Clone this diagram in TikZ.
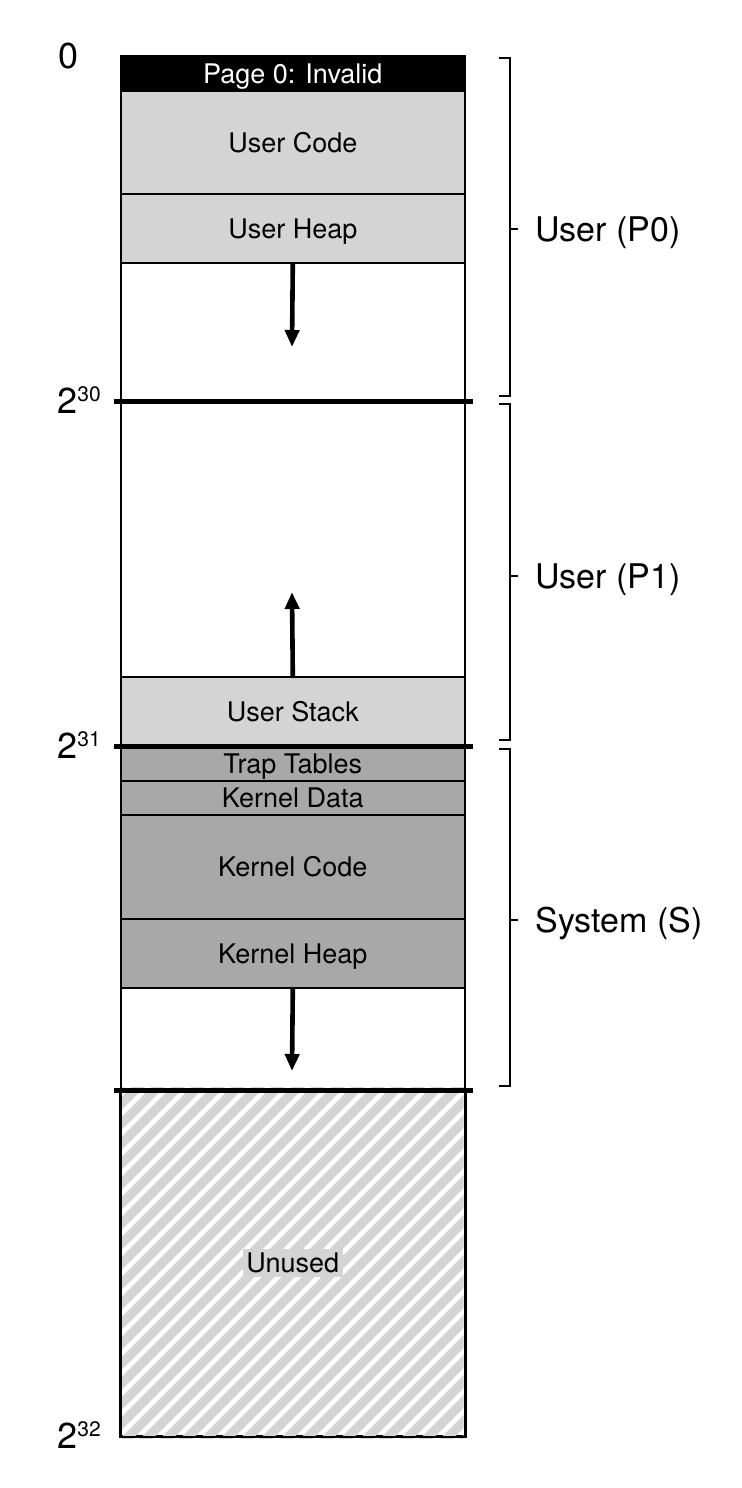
\documentclass[tikz,border=0pt]{standalone}
\usepackage{fontspec}
\setmainfont{TeX Gyre Heros}
\usetikzlibrary{arrows.meta}
\definecolor{ulight}{RGB}{212,212,212}
\definecolor{kdark}{RGB}{168,168,168}
\begin{document}
\begin{tikzpicture}[x=0.5pt,y=-0.5pt,
  region/.style={draw=black, line width=0.8pt, inner sep=0pt, minimum width=172pt,
    anchor=north west, font=\fontsize{13.5}{16}\selectfont, text height=9.7pt, text depth=0pt},
  sepline/.style={line width=2.5pt},
  growarrow/.style={line width=2.3pt, -{Triangle[width=7pt,length=8.5pt]}},
  bracket/.style={line width=0.8pt},
  seglabel/.style={anchor=west, inner sep=0pt, font=\fontsize{17}{20}\selectfont, text height=12.2pt, text depth=0pt},
  addrlabel/.style={anchor=base west, inner sep=0pt, font=\fontsize{18}{20}\selectfont}
]
\useasboundingbox (0,0) rectangle (742,1488);

% regions
\node[region, fill=black, text=white, minimum height=17.5pt] (p0) at (120,55) {Page 0: Invalid};
\node[region, fill=ulight, minimum height=51.5pt] (ucode) at (120,90) {User Code};
\node[region, fill=ulight, minimum height=34.5pt] (uheap) at (120,193) {User Heap};
\node[region, fill=white, minimum height=69pt] (p0free) at (120,262) {};
\node[region, fill=white, minimum height=138pt] (p1free) at (120,400) {};
\node[region, fill=ulight, minimum height=34.5pt] (ustack) at (120,676) {User Stack};
\node[region, fill=kdark, minimum height=17.5pt] (trap) at (120,745) {Trap Tables};
\node[region, fill=kdark, minimum height=17pt] (kdata) at (120,780) {Kernel Data};
\node[region, fill=kdark, minimum height=52pt] (kcode) at (120,814) {Kernel Code};
\node[region, fill=kdark, minimum height=34.5pt] (kheap) at (120,918) {Kernel Heap};
\node[region, fill=white, minimum height=51pt] (sfree) at (120,987) {};
\node[region, fill=white, minimum height=173pt] (unused) at (120,1089) {};

% hatching of unused region
\begin{scope}
  \clip ([shift={(1pt,-1pt)}]unused.south west) rectangle ([shift={(-1pt,1pt)}]unused.north east);
  \foreach \i in {0,...,45}
    \draw[ulight, line width=4.6pt] ({-300+20*\i},1445) -- ++(420,-420);
\end{scope}
\draw[line width=1pt] (unused.north west) rectangle (unused.south east);
\node[fill=ulight, inner sep=1.8pt, font=\fontsize{13.5}{16}\selectfont] (unusedlbl) at (unused.center) {Unused};

% thick separators
\draw[sepline] ([xshift=-3pt]p0free.south west) -- ([xshift=3.5pt]p0free.south east);
\draw[sepline] ([xshift=-3pt]ustack.south west) -- ([xshift=3.5pt]ustack.south east);
\draw[sepline] ([xshift=-3pt]sfree.south west) -- ([xshift=3.5pt]sfree.south east);

% growth arrows
\coordinate (heaptip) at (292,347);
\coordinate (stacktip) at (292,592);
\coordinate (kheaptip) at (292,1071);
\draw[growarrow] (uheap.south) -- (heaptip);
\draw[growarrow] (ustack.north) -- (stacktip);
\draw[growarrow] (kheap.south) -- (kheaptip);

% address labels
\node[addrlabel] (a0) at (58,68) {0};
\node[addrlabel] (a30) at (57,413) {2\raisebox{5.8pt}{\fontsize{10.5}{12}\selectfont 30}};
\node[addrlabel] (a31) at (57,758) {2\raisebox{5.8pt}{\fontsize{10.5}{12}\selectfont 31}};
\node[addrlabel] (a32) at (57,1448) {2\raisebox{5.8pt}{\fontsize{10.5}{12}\selectfont 32}};

% brackets
\draw[bracket] (499,58) -- (510,58) -- (510,396) -- (499,396);
\draw[bracket] (510,229) -- (518,229);
\node[seglabel] (lp0) at (535,229) {User (P0)};

\draw[bracket] (499,404) -- (510,404) -- (510,740) -- (499,740);
\draw[bracket] (510,576) -- (518,576);
\node[seglabel] (lp1) at (535,576) {User (P1)};

\draw[bracket] (499,749) -- (510,749) -- (510,1086) -- (499,1086);
\draw[bracket] (510,920) -- (518,920);
\node[seglabel] (ls) at (535,920) {System (S)};
\end{tikzpicture}
\end{document}
